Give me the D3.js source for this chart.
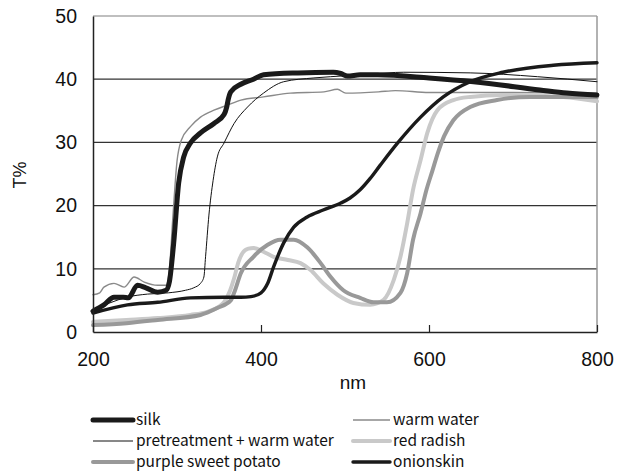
<!DOCTYPE html>
<html>
<head>
<meta charset="utf-8">
<script src="https://cdn.jsdelivr.net/npm/d3@7"></script>
<style>
  body { margin: 0; background: #fff; }
  svg { display: block; }
  .tick text { font-family: "Liberation Sans", Arial, sans-serif; font-size: 19.5px; fill: #111; }
  .legend text { font-family: "Noto Sans CJK JP", sans-serif; font-size: 15.5px; fill: #111; }
</style>
</head>
<body>
<svg id="chart" width="626" height="472"></svg>
<script>
// wavelength (nm) / transmittance (%) pairs
const silk = [[200,3.3],[213,4.3],[225,5.5],[236,5.5],[242,5.4],[253,7.4],[263,7.0],[277,6.3],[287,6.6],[291,8],[296,14],[302,23.6],[308,27.7],[316,29.9],[328,31.5],[344,33],[356,34.4],[359,35.5],[361,36.8],[364,38],[376,39.2],[391,40],[403,40.7],[444,41],[486,41.1],[495,40.9],[503,40.5],[518,40.7],[539,40.7],[600,40.2],[653,39.6],[732,38.3],[764,37.8],[800,37.5]];
const warmWater = [[200,5.9],[208,6.2],[213,7.1],[225,7.7],[237,7.1],[249,8.7],[261,7.9],[277,7.4],[287,7.4],[291,10],[295,18],[300,27],[305,30.3],[316,32.5],[328,34],[344,35.1],[360,35.9],[376,36.7],[403,37.2],[435,37.8],[475,38],[491,38.4],[501,37.8],[540,38],[560,38.2],[600,37.9],[700,37.9],[800,37.8]];
const pretreatment = [[200,3.5],[220,4.6],[240,5.5],[265,6.0],[290,6.2],[310,6.6],[320,7],[328,7.7],[332,8.7],[334,11.9],[338,18.5],[343,24],[348,27.7],[356,29.9],[368,33],[384,35.6],[403,37.8],[427,39.6],[463,40.2],[483,40.4],[530,40.8],[570,41.1],[649,41],[729,40.4],[800,39.6]];
const redRadish = [[200,1.6],[240,1.9],[277,2.2],[316,2.7],[336,3.2],[350,4.0],[356,4.7],[363,6.5],[368,8.5],[373,11],[378,12.5],[385,13.2],[391,13.3],[403,12.7],[415,11.9],[432,11.4],[447,10.9],[459,9.8],[474,7.7],[491,5.9],[510,4.6],[530,4.3],[546,5.1],[558,8.2],[566,11.9],[574,17.2],[581,22.5],[590,27.2],[598,31.5],[610,35.1],[629,36.7],[649,37.2],[688,37.5],[760,37.2],[800,36.5]];
const purpleSweetPotato = [[200,1.1],[240,1.4],[277,1.9],[328,2.7],[348,3.8],[364,5],[368,6.2],[376,9.3],[391,11.9],[408,13.8],[423,14.6],[439,14.6],[455,13.4],[471,10.9],[483,8.7],[498,6.6],[518,5.4],[534,4.7],[550,4.7],[566,6.2],[574,9.3],[581,14.6],[590,18.8],[597,22.5],[604,25.5],[611,28.5],[618,31],[629,33.5],[649,35.6],[681,36.7],[720,37.2],[800,37.2]];
const onionskin = [[200,3.0],[241,4.3],[277,4.7],[316,5.4],[356,5.5],[376,5.5],[388,5.6],[400,6.2],[408,7.7],[415,10.3],[427,14.1],[439,16.6],[455,18.2],[474,19.3],[495,20.4],[506,21.2],[518,22.5],[530,24.3],[542,26.4],[562,29.8],[590,34],[617,37.2],[649,39.6],[688,41.1],[748,42.2],[800,42.6]];

const xTicks = [200, 400, 600, 800];
const yTicks = [0, 10, 20, 30, 40, 50];

// draw order (bottom to top) and look of each series
const series = [
    { name: "warm water", data: warmWater, color: "#8a8a8a", width: 1.4 },
    { name: "pretreatment + warm water", data: pretreatment, color: "#111", width: 1 },
    { name: "red radish", data: redRadish, color: "#c9c9c9", width: 4 },
    { name: "purple sweet potato", data: purpleSweetPotato, color: "#999", width: 4 },
    { name: "onionskin", data: onionskin, color: "#1a1a1a", width: 3.4 },
    { name: "silk", data: silk, color: "#1a1a1a", width: 5 }
];
const legendOrder = ["silk", "warm water", "pretreatment + warm water", "red radish", "purple sweet potato", "onionskin"];

const plotLeft = 93, plotRight = 597, plotTop = 16, plotBottom = 332;

const svg = d3.select("#chart");

const x = d3.scaleLinear().domain([200, 800]).range([plotLeft, plotRight]);
const y = d3.scaleLinear().domain([0, 50]).range([plotBottom, plotTop]);

// gridlines
svg.append("g")
    .selectAll("line")
    .data(yTicks.filter(t => t > 0 && t < 50))
    .join("line")
        .attr("x1", plotLeft).attr("x2", plotRight)
        .attr("y1", d => y(d)).attr("y2", d => y(d))
        .attr("stroke", "#333").attr("stroke-width", 1.2);

// top and right frame in grey
svg.append("line")
    .attr("x1", plotLeft).attr("x2", plotRight).attr("y1", y(50)).attr("y2", y(50))
    .attr("stroke", "#aaa").attr("stroke-width", 1.5);
svg.append("line")
    .attr("x1", plotRight).attr("x2", plotRight).attr("y1", y(50)).attr("y2", plotBottom)
    .attr("stroke", "#999").attr("stroke-width", 1.5);

// curves
const line = d3.line()
    .x(d => x(d[0]))
    .y(d => y(d[1]))
    .curve(d3.curveMonotoneX);

svg.append("g")
    .selectAll("path")
    .data(series)
    .join("path")
        .attr("d", d => line(d.data))
        .attr("fill", "none")
        .attr("stroke", d => d.color)
        .attr("stroke-width", d => d.width)
        .attr("stroke-linejoin", "round")
        .attr("stroke-linecap", "round");

// x axis
const xAxis = svg.append("g")
    .attr("transform", `translate(0, ${plotBottom})`)
    .call(d3.axisBottom(x).tickValues(xTicks).tickSize(-7).tickPadding(20).tickSizeOuter(0));
xAxis.select(".domain").attr("stroke", "#222").attr("stroke-width", 1.5);
xAxis.selectAll(".tick line").attr("stroke", "#222").attr("stroke-width", 1.2);

// y axis
const yAxis = svg.append("g")
    .attr("transform", `translate(${plotLeft}, 0)`)
    .call(d3.axisLeft(y).tickValues(yTicks).tickSize(0).tickPadding(16).tickSizeOuter(0));
yAxis.select(".domain").attr("stroke", "#222").attr("stroke-width", 1.5);

// axis titles
svg.append("text")
    .attr("x", 353).attr("y", 389)
    .attr("text-anchor", "middle")
    .attr("font-family", "Liberation Sans, Arial, sans-serif")
    .attr("font-size", 19)
    .attr("fill", "#111")
    .text("nm");

svg.append("text")
    .attr("transform", "translate(26, 175) rotate(-90)")
    .attr("text-anchor", "middle")
    .attr("font-family", "Liberation Sans, Arial, sans-serif")
    .attr("font-size", 18)
    .attr("fill", "#111")
    .text("T%");

// legend, two columns of three
const legend = svg.append("g").attr("class", "legend");
const legendCols = [{ x0: 93, x1: 133 }, { x0: 353, x1: 390 }];
const legendRows = [420, 441, 462];

legendOrder.forEach((name, i) => {
    const s = series.find(d => d.name === name);
    const col = legendCols[i % 2];
    const ly = legendRows[Math.floor(i / 2)];
    legend.append("line")
        .attr("x1", col.x0).attr("x2", col.x1)
        .attr("y1", ly).attr("y2", ly)
        .attr("stroke", s.color)
        .attr("stroke-width", s.width)
        .attr("stroke-linecap", s.width > 2 ? "round" : "butt");
    legend.append("text")
        .attr("x", col.x1 + 3)
        .attr("y", ly)
        .attr("dy", "0.35em")
        .text(name);
});
</script>
</body>
</html>
